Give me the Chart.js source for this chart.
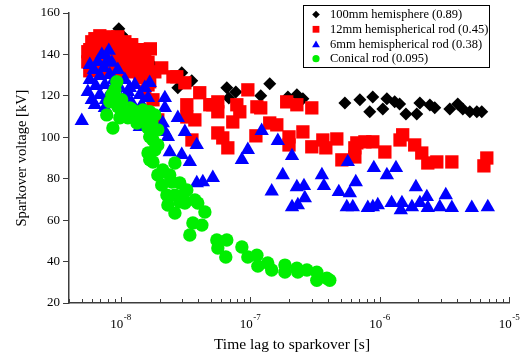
<!DOCTYPE html>
<html>
<head>
<meta charset="utf-8">
<script src="https://cdn.jsdelivr.net/npm/chart.js@4.4.1/dist/chart.umd.min.js"></script>
<style>
  html, body { margin: 0; padding: 0; background: #fff; }
  #wrap { width: 525px; height: 358px; position: relative; }
</style>
</head>
<body>
<div id="wrap"><canvas id="sparkChart"></canvas></div>
<script>
// time lag to sparkover [s] and sparkover voltage [kV], one pair of arrays per electrode
const hemi100T = [9.7e-9, 1.02e-8, 1.10e-8, 1.14e-8, 1.24e-8, 1.34e-8, 1.44e-8, 1.54e-8, 1.68e-8, 1.74e-8,
  2.97e-8, 3.55e-8, 2.77e-8, 6.62e-8, 7.77e-8, 6.86e-8, 1.21e-7, 1.42e-7, 1.96e-7, 2.30e-7,
  2.56e-7, 5.40e-7, 7.05e-7, 8.87e-7, 8.41e-7, 1.06e-6, 1.14e-6, 1.31e-6, 1.43e-6, 1.60e-6,
  1.94e-6, 2.05e-6, 2.45e-6, 2.67e-6, 3.49e-6, 4.02e-6, 4.40e-6, 4.98e-6, 5.64e-6, 6.16e-6];
const hemi100V = [152.4, 149.5, 147.1, 143.7, 142.3, 138.9, 137.9, 136.0, 134.0, 135.0,
  131.1, 127.3, 123.9, 123.9, 121.9, 119.0, 120.0, 125.8, 119.5, 120.5,
  118.6, 116.6, 118.1, 119.5, 112.3, 113.7, 118.6, 117.1, 116.1, 111.3,
  111.3, 116.6, 115.6, 114.2, 113.7, 116.1, 113.7, 112.3, 112.3, 112.3];

const rod12T = [5.59e-9, 5.79e-9, 6.0e-9, 6.1e-9, 6.34e-9, 6.68e-9, 6.92e-9, 7.30e-9, 7.30e-9, 7.57e-9,
  7.98e-9, 8.26e-9, 8.26e-9, 8.57e-9, 9.04e-9, 9.2e-9, 9.53e-9, 9.88e-9, 1.02e-8, 1.02e-8,
  1.08e-8, 1.14e-8, 1.18e-8, 1.22e-8, 1.29e-8, 1.36e-8, 1.41e-8, 1.46e-8, 1.54e-8, 1.63e-8,
  1.68e-8, 1.78e-8, 1.84e-8, 1.94e-8, 1.54e-8, 1.70e-8, 2.08e-8, 2.54e-8, 2.72e-8, 3.14e-8,
  3.25e-8, 3.25e-8, 3.75e-8, 3.56e-8, 4.09e-8, 4.89e-8, 5.16e-8, 5.64e-8, 5.64e-8, 5.64e-8,
  6.16e-8, 6.74e-8, 7.36e-8, 7.91e-8, 8.34e-8, 9.62e-8, 1.11e-7, 1.13e-7, 1.21e-7, 1.42e-7,
  1.61e-7, 1.92e-7, 2.0e-7, 2.0e-7, 2.30e-7, 2.56e-7, 3.0e-7, 3.0e-7, 3.65e-7, 3.85e-7,
  4.68e-7, 5.12e-7, 6.45e-7, 6.45e-7, 6.68e-7, 7.71e-7, 8.88e-7, 1.10e-6, 1.44e-6, 1.51e-6,
  1.87e-6, 2.12e-6, 2.36e-6, 2.77e-6, 3.62e-6, 6.74e-6, 6.4e-6,
  6.34e-9, 6.92e-9, 9.53e-9, 1.08e-8, 1.22e-8, 1.36e-8, 5.59e-9, 5.79e-9, 1.54e-8, 1.63e-8];
const rod12V = [136.4, 142.3, 146.1, 133.5, 139.3, 144.7, 136.0, 147.1, 141.3, 131.6,
  148.5, 143.2, 137.4, 147.1, 140.3, 133.5, 145.2, 137.4, 142.3, 129.7,
  139.3, 135.5, 141.3, 131.6, 137.4, 133.5, 128.7, 136.4, 131.6, 125.3,
  126.8, 118.1, 131.6, 108.4, 122.0, 142.7, 133.5, 129.2, 129.2, 126.3,
  115.7, 109.8, 108.4, 98.7, 121.5, 115.7, 115.7, 117.1, 112.3, 102.1,
  99.7, 94.9, 107.4, 115.7, 112.3, 122.9, 100.7, 114.7, 114.2, 106.9,
  106.0, 117.1, 100.2, 96.3, 115.7, 102.6, 114.2, 95.4, 98.7, 94.9,
  99.2, 89.1, 94.9, 90.5, 97.3, 97.8, 97.8, 92.9, 98.7, 101.2,
  96.3, 92.4, 87.6, 88.1, 88.1, 90.0, 86.2,
  147.6, 149.0, 148.5, 146.1, 144.7, 142.3, 141.3, 132.1, 138.4, 136.2];

const rod6T = [5.02e-9, 5.59e-9, 5.79e-9, 6.0e-9, 6.22e-9, 6.44e-9, 6.68e-9, 6.92e-9, 6.92e-9, 7.17e-9,
  7.43e-9, 7.57e-9, 7.69e-9, 7.98e-9, 8.12e-9, 8.26e-9, 8.57e-9, 8.57e-9, 8.87e-9, 9.2e-9,
  9.53e-9, 9.88e-9, 1.02e-8, 1.08e-8, 1.14e-8, 1.18e-8, 1.22e-8, 1.29e-8, 1.41e-8, 1.46e-8,
  1.54e-8, 1.68e-8, 1.63e-8, 1.41e-8, 2.20e-8, 2.20e-8, 2.77e-8, 2.12e-8, 2.20e-8, 3.14e-8,
  2.32e-8, 3.88e-8, 2.40e-8, 2.97e-8, 3.43e-8, 3.88e-8, 4.32e-8, 5.16e-8, 9.62e-8, 8.65e-8,
  1.23e-7, 1.64e-7, 2.11e-7, 1.79e-7, 1.47e-7, 2.30e-7, 2.61e-7, 2.65e-7, 2.34e-7, 2.11e-7,
  3.59e-7, 3.72e-7, 4.85e-7, 5.69e-7, 6.56e-7, 5.90e-7, 5.59e-7, 6.22e-7, 8.12e-7, 9.04e-7,
  8.88e-7, 9.70e-7, 1.14e-6, 1.34e-6, 1.24e-6, 1.49e-6, 1.46e-6, 1.78e-6, 1.91e-6, 2.05e-6,
  2.32e-6, 2.36e-6, 2.92e-6, 3.25e-6, 3.62e-6, 5.16e-6, 6.86e-6,
  6.34e-9, 7.57e-9, 9.53e-9, 1.14e-8, 5.79e-9];
const rod6V = [107.9, 121.9, 127.7, 118.1, 132.6, 124.8, 136.4, 129.7, 120.5, 139.8,
  133.5, 125.3, 118.1, 137.4, 141.8, 130.2, 122.9, 136.0, 127.7, 120.5,
  132.6, 123.9, 118.1, 127.7, 121.9, 123.9, 116.6, 125.3, 120.5, 115.7,
  123.9, 126.3, 119.0, 105.0, 119.0, 114.2, 109.4, 106.9, 102.6, 102.6,
  100.2, 96.3, 92.9, 91.5, 88.1, 77.9, 78.4, 80.4, 93.9, 89.1,
  103.1, 98.3, 91.0, 81.8, 73.9, 76.0, 76.5, 70.7, 67.3, 66.3,
  81.8, 76.5, 73.6, 88.1, 78.4, 73.1, 66.3, 66.3, 65.9, 85.2,
  66.3, 67.3, 81.8, 85.2, 68.3, 68.3, 64.9, 66.3, 76.0, 68.3,
  71.2, 65.9, 66.3, 72.1, 65.9, 65.9, 66.3,
  115.7, 114.2, 116.1, 118.1, 135.0];

const conicalT = [9.36e-9, 8.57e-9, 8.26e-9, 7.83e-9, 8.73e-9, 9.53e-9, 9.88e-9, 1.06e-8, 1.18e-8, 1.34e-8,
  1.41e-8, 1.54e-8, 1.68e-8, 1.84e-8, 1.74e-8, 1.34e-8, 1.63e-8, 1.68e-8, 1.78e-8, 1.94e-8,
  1.63e-8, 1.68e-8, 1.78e-8, 1.94e-8, 2.12e-8, 2.63e-8, 2.08e-8, 2.28e-8, 2.49e-8, 2.63e-8,
  2.87e-8, 3.14e-8, 3.25e-8, 2.32e-8, 2.63e-8, 2.87e-8, 3.75e-8, 3.95e-8, 4.48e-8, 3.62e-8,
  4.25e-8, 3.43e-8, 5.54e-8, 6.62e-8, 5.64e-8, 6.50e-8, 8.65e-8, 9.62e-8, 1.13e-7, 1.15e-7,
  1.37e-7, 1.47e-7, 1.86e-7, 1.86e-7, 2.30e-7, 2.34e-7, 2.75e-7, 3.28e-7, 3.28e-7, 3.92e-7,
  4.13e-7,
  9.04e-9, 1.02e-8, 1.14e-8, 1.24e-8, 1.49e-8, 1.94e-8, 1.84e-8, 2.40e-8, 3.03e-8];
const conicalV = [126.8, 120.5, 117.1, 110.8, 104.5, 114.7, 109.4, 113.2, 114.2, 111.8,
  108.4, 109.9, 112.3, 110.8, 107.4, 106.9, 104.5, 100.2, 98.7, 96.3,
  92.4, 89.1, 88.1, 81.8, 84.2, 87.6, 77.0, 72.1, 78.4, 72.1,
  77.9, 68.3, 74.6, 67.3, 63.4, 68.8, 69.7, 68.3, 63.9, 58.6,
  57.6, 52.8, 50.4, 50.4, 46.5, 42.2, 47.0, 42.2, 43.1, 37.8,
  39.3, 35.9, 38.3, 34.9, 36.8, 34.9, 35.9, 34.9, 31.0, 32.0,
  31.0,
  122.9, 118.1, 109.4, 113.2, 113.2, 103.6, 93.9, 81.8, 72.1];

const seriesLabels = ['100mm hemisphere (0.89)', '12mm hemispherical rod (0.45)',
  '6mm hemispherical rod (0.38)', 'Conical rod (0.095)'];
const yTicks = [20, 40, 60, 80, 100, 120, 140, 160];
const xDecades = [-8, -7, -6, -5];

const SERIF = "'Liberation Serif', 'DejaVu Serif', 'Times New Roman', serif";
const AXIS_COLOR = '#3c3c3c';

const pairs = (ts, vs) => ts.map((t, i) => ({ x: t, y: vs[i] }));

// marker look per series (black drawn first, green on top)
const styles = [
  { color: '#000000', pointStyle: 'rectRot', radius: 6.5, legendR: 3.8, order: 4 },
  { color: '#ff0000', pointStyle: 'rect', radius: 9.4, legendR: 4.8, order: 3 },
  { color: '#0000ff', pointStyle: 'triangle', radius: 8.3, legendR: 4.5, order: 2 },
  { color: '#00ee00', pointStyle: 'circle', radius: 6.7, legendR: 3.6, order: 1 }
];
const seriesData = [pairs(hemi100T, hemi100V), pairs(rod12T, rod12V), pairs(rod6T, rod6V), pairs(conicalT, conicalV)];

const datasets = seriesData.map((d, i) => ({
  label: seriesLabels[i],
  data: d,
  order: styles[i].order,
  pointStyle: styles[i].pointStyle,
  pointRadius: styles[i].radius,
  pointHoverRadius: styles[i].radius,
  backgroundColor: styles[i].color,
  borderColor: styles[i].color,
  borderWidth: 0,
  clip: false
}));

// inward x ticks, decade labels with superscript exponents, axis titles, legend box
const decor = {
  id: 'decor',
  afterDraw(chart) {
    const { ctx, chartArea: area, scales: { x } } = chart;
    ctx.save();

    // x ticks: 1..9 per decade, pointing up into the plot
    ctx.strokeStyle = AXIS_COLOR;
    ctx.lineWidth = 1;
    const lo = Math.floor(Math.log10(x.min)), hi = Math.ceil(Math.log10(x.max));
    for (let e = lo; e <= hi; e++) {
      for (let m = 1; m <= 9; m++) {
        const v = m * Math.pow(10, e);
        if (v < x.min * 0.999 || v > x.max * 1.001) continue;
        const px = Math.round(x.getPixelForValue(v)) + 0.5;
        ctx.beginPath();
        ctx.moveTo(px, area.bottom);
        ctx.lineTo(px, area.bottom - (m === 1 ? 6 : 4));
        ctx.stroke();
      }
    }

    // decade labels 10^n
    ctx.fillStyle = '#000';
    ctx.textBaseline = 'alphabetic';
    ctx.textAlign = 'left';
    xDecades.forEach(e => {
      const px = x.getPixelForValue(Math.pow(10, e));
      const exp = '-' + Math.abs(e);
      ctx.font = '13px ' + SERIF;
      const wBase = ctx.measureText('10').width;
      ctx.font = '9px ' + SERIF;
      const wExp = ctx.measureText(exp).width;
      const start = px - (wBase + wExp) / 2;
      ctx.font = '13px ' + SERIF;
      ctx.fillText('10', start, area.bottom + 25);
      ctx.font = '9px ' + SERIF;
      ctx.fillText(exp, start + wBase + 0.5, area.bottom + 17);
    });

    // axis titles
    ctx.font = '15.5px ' + SERIF;
    ctx.textAlign = 'center';
    ctx.fillText('Time lag to sparkover [s]', (area.left + area.right) / 2 + 3, area.bottom + 46);
    ctx.save();
    ctx.translate(22, (area.top + area.bottom) / 2);
    ctx.rotate(-Math.PI / 2);
    ctx.font = '14.5px ' + SERIF;
    ctx.textBaseline = 'middle';
    ctx.fillText('Sparkover voltage [kV]', 0, 0);
    ctx.restore();

    // legend
    const bx = 303, by = 5, bw = 186, bh = 62;
    const rows = [14.5, 29.3, 44, 58.7];
    ctx.fillStyle = '#fff';
    ctx.fillRect(bx, by, bw, bh);
    ctx.strokeStyle = '#000';
    ctx.lineWidth = 1;
    ctx.strokeRect(bx + 0.5, by + 0.5, bw, bh);
    seriesLabels.forEach((label, i) => {
      ctx.fillStyle = styles[i].color;
      ctx.strokeStyle = styles[i].color;
      Chart.helpers.drawPoint(ctx, {
        pointStyle: styles[i].pointStyle, radius: styles[i].legendR, rotation: 0, borderWidth: 0
      }, 316, rows[i] + (styles[i].pointStyle === 'triangle' ? 1 : 0));
      ctx.fillStyle = '#000';
      ctx.font = '12.5px ' + SERIF;
      ctx.textAlign = 'left';
      ctx.textBaseline = 'middle';
      ctx.fillText(label, 330, rows[i] + 0.5);
    });
    ctx.restore();
  }
};

new Chart(document.getElementById('sparkChart'), {
  type: 'scatter',
  data: { datasets },
  options: {
    responsive: true,
    maintainAspectRatio: false,
    animation: false,
    events: [],
    layout: { padding: { top: 13, right: 16, left: 0, bottom: 0 } },
    plugins: { legend: { display: false }, tooltip: { enabled: false } },
    scales: {
      x: {
        type: 'logarithmic',
        min: 4e-9,
        max: 1e-5,
        grid: { display: false },
        border: { display: true, color: AXIS_COLOR, width: 1.5 },
        ticks: { display: false },
        afterFit: s => { s.height = 55; }
      },
      y: {
        min: 20,
        max: 160,
        afterBuildTicks: s => { s.ticks = yTicks.map(v => ({ value: v })); },
        grid: { drawOnChartArea: false, drawTicks: true, tickLength: 6, color: AXIS_COLOR, tickColor: AXIS_COLOR },
        border: { display: true, color: AXIS_COLOR, width: 1.5 },
        ticks: { color: '#000', padding: 3, font: { family: SERIF, size: 13 } },
        afterFit: s => { s.width = 69; }
      }
    }
  },
  plugins: [decor]
});
</script>
</body>
</html>
